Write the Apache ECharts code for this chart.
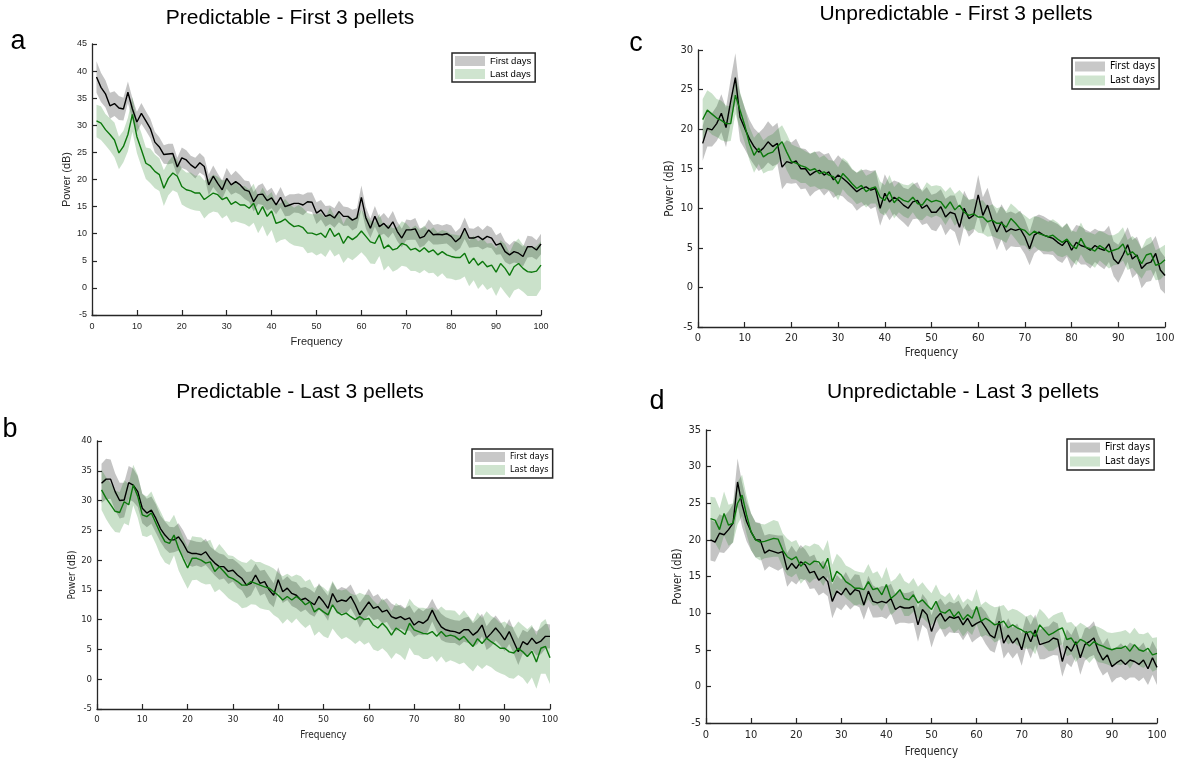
<!DOCTYPE html>
<html>
<head>
<meta charset="utf-8">
<title>Power spectra</title>
<script src="https://cdn.jsdelivr.net/npm/echarts/dist/echarts.min.js"></script>
<style>
  html, body { margin: 0; padding: 0; background: #fff; }
  #chart { width: 1180px; height: 761px; }
</style>
</head>
<body>
<div id="chart"></div>
<script>
// Frequency bins (Hz)
const FREQ = [];
for (let f = 1; f <= 100; f++) FREQ.push(f);

const TICKS_X = [0, 10, 20, 30, 40, 50, 60, 70, 80, 90, 100];

// Mean power (dB) and shaded half-widths, Predictable - First 3 pellets
const predFirstFirstDays = [38.9,37.0,35.8,33.6,34.0,33.2,33.0,36.1,33.0,30.6, 32.2,30.8,29.4,26.9,26.0,24.6,24.7,24.8,22.3,24.0, 23.6,22.7,22.1,23.1,22.4,19.0,20.6,19.3,18.1,20.2, 19.0,19.6,19.0,18.1,17.8,15.9,17.2,17.3,16.1,16.6, 15.3,16.7,15.0,15.3,15.6,15.6,15.3,15.9,15.8,13.8, 14.4,13.2,13.5,12.9,14.1,13.2,13.2,12.5,12.9,16.7, 12.9,11.0,13.2,11.3,11.9,11.0,12.2,10.4,9.2,10.7, 10.7,10.9,9.2,9.5,10.7,9.8,9.9,9.8,10.0,9.5, 8.5,9.2,11.0,9.2,9.2,9.5,8.9,9.5,9.2,7.9, 8.2,6.7,6.1,6.7,6.4,5.8,7.6,7.6,7.0,8.1];
const predFirstFirstSpread = [2.9,2.7,2.5,2.4,2.3,2.2,2.1,2.0,2.0,1.9, 1.9,1.8,1.8,1.9,1.8,1.7,1.9,1.8,1.7,1.9, 1.8,1.7,1.9,1.8,1.7,1.9,2.0,1.8,1.7,1.9, 1.8,2.0,1.8,1.7,1.9,1.8,1.7,2.0,1.8,1.9, 1.7,1.9,1.8,2.0,1.7,1.8,1.9,1.7,1.8,2.0, 1.8,1.9,1.7,1.8,2.0,1.8,1.7,1.9,1.8,2.2, 2.0,1.8,1.9,1.7,1.9,1.8,2.0,1.8,1.7,1.9, 1.8,2.0,1.8,1.7,1.9,1.8,1.9,1.7,1.8,2.0, 1.8,1.9,2.0,1.8,1.7,1.9,1.8,2.0,1.9,1.8, 2.0,1.9,1.8,2.0,1.9,1.8,2.0,1.9,1.8,1.9];
const predFirstLastDays = [30.8,30.4,29.2,28.3,27.3,24.9,26.1,28.3,32.0,27.9, 25.5,23.0,22.5,21.5,20.9,18.4,20.2,21.2,20.6,18.7, 18.1,17.9,17.5,17.5,16.3,16.9,17.5,17.2,16.3,16.7, 15.4,15.9,15.3,15.3,14.7,15.6,13.5,15.0,13.2,14.2, 11.9,12.2,12.7,11.9,11.3,11.5,11.1,10.1,10.1,9.8, 10.1,9.3,11.0,9.5,10.1,8.2,9.5,8.9,9.5,10.5, 9.5,8.5,8.2,9.8,7.3,7.9,7.0,7.3,8.2,7.9, 7.0,7.3,6.7,7.4,6.6,7.0,6.1,6.7,6.1,5.8, 5.6,5.6,6.4,4.5,5.5,4.2,4.9,3.9,4.2,2.9, 4.5,3.6,2.3,3.9,4.5,3.6,3.0,2.9,3.1,4.2];
const predFirstLastSpread = [3.0,3.1,2.9,3.0,3.2,3.0,2.9,3.1,3.2,3.0, 3.1,2.9,3.2,3.1,3.0,3.3,3.1,3.2,3.0,3.3, 3.2,3.4,3.2,3.3,3.5,3.2,3.4,3.3,3.5,3.3, 3.4,3.6,3.3,3.5,3.4,3.6,3.4,3.5,3.7,3.5, 3.6,3.4,3.7,3.6,3.5,3.8,3.6,3.7,3.5,3.8, 3.7,3.6,3.9,3.7,3.8,3.6,3.9,3.8,3.7,3.9, 3.8,4.0,3.8,3.9,4.1,3.8,4.0,3.9,4.1,4.0, 3.9,4.2,4.0,4.1,3.9,4.2,4.1,4.0,4.3,4.1, 4.2,4.0,4.3,4.2,4.1,4.4,4.2,4.3,4.1,4.4, 4.3,4.5,4.2,4.4,4.6,4.3,4.5,4.4,4.6,4.4];

// Predictable - Last 3 pellets
const predLastFirstDays = [32.9,33.6,33.6,31.5,30.0,30.1,33.0,32.6,31.5,28.7, 27.9,28.4,27.0,25.3,24.2,23.4,23.4,23.9,22.8,21.4, 21.1,21.1,20.9,21.4,20.3,19.5,18.9,18.9,18.1,18.3, 17.5,16.9,15.8,16.1,17.5,16.1,16.4,15.0,14.1,16.7, 14.7,15.3,14.4,14.1,13.3,13.6,13.0,12.5,13.9,13.0, 11.9,14.4,13.0,13.3,13.1,13.9,12.5,10.8,11.9,13.0, 11.9,12.2,11.3,11.6,10.5,10.2,10.5,10.0,10.3,9.1, 9.7,9.4,10.0,11.6,10.0,8.8,8.3,8.1,8.0,7.7, 8.3,8.3,7.4,8.0,9.1,6.9,7.7,8.6,7.7,6.6, 8.0,6.3,4.6,6.3,5.8,6.9,6.0,6.4,7.2,7.2];
const predLastFirstSpread = [3.3,3.4,3.3,3.1,3.0,2.9,2.8,2.8,2.6,2.5, 2.4,2.3,2.4,2.2,2.3,2.2,2.1,2.3,2.2,2.1, 2.2,2.0,2.1,2.2,2.0,2.1,2.2,2.0,2.1,1.9, 2.1,2.0,2.2,2.0,1.9,2.1,2.0,2.2,2.0,2.1, 1.9,2.0,2.1,2.2,2.0,1.9,2.1,2.0,2.2,2.0, 2.1,1.9,2.0,2.2,2.1,2.0,1.9,2.1,2.0,2.2, 2.0,2.1,1.9,2.0,2.2,2.1,2.0,1.9,2.1,2.0, 2.2,2.0,2.1,1.9,2.0,2.2,2.1,2.0,1.9,2.1, 2.0,2.2,2.0,2.1,1.9,2.0,2.2,2.1,2.0,1.9, 2.1,2.0,2.2,2.0,2.1,1.9,2.0,2.2,2.1,2.0];
const predLastLastDays = [31.8,30.4,29.3,28.2,28.0,29.8,29.3,32.6,30.7,27.6, 27.3,27.9,26.2,24.5,23.1,22.8,24.2,22.0,20.3,18.7, 20.3,20.3,20.0,19.5,19.7,18.1,18.9,18.1,17.2,16.9, 16.4,15.8,15.8,16.4,16.1,15.8,15.5,15.3,14.7,14.1, 13.3,13.9,13.3,13.9,13.3,12.5,13.0,11.3,11.9,11.3, 10.8,12.5,11.3,10.8,11.1,10.5,10.0,10.5,10.0,10.2, 9.1,8.6,9.4,8.6,7.4,8.6,8.1,7.5,9.4,8.3, 8.0,7.7,7.6,8.0,7.2,8.0,7.2,7.4,7.2,6.6, 7.2,6.3,5.5,6.8,6.0,6.9,6.3,5.8,5.2,5.2, 4.6,4.4,5.2,4.6,3.8,4.7,2.9,5.2,5.5,3.6];
const predLastLastSpread = [3.4,3.5,3.6,3.5,3.4,3.6,3.5,3.4,3.6,3.5, 3.4,3.6,3.5,3.7,3.5,3.6,3.4,3.7,3.6,3.5, 3.7,3.6,3.8,3.6,3.7,3.5,3.8,3.7,3.6,3.8, 3.7,3.9,3.7,3.8,3.6,3.9,3.8,3.7,3.9,3.8, 4.0,3.8,3.9,3.7,4.0,3.9,3.8,4.0,3.9,4.1, 3.9,4.0,3.8,4.1,4.0,3.9,4.1,4.0,4.2,4.0, 4.1,3.9,4.2,4.1,4.0,4.2,4.1,4.3,4.1,4.2, 4.0,4.3,4.2,4.1,4.3,4.2,4.4,4.2,4.3,4.1, 4.4,4.3,4.2,4.4,4.3,4.5,4.3,4.4,4.2,4.5, 4.4,4.3,4.5,4.4,4.6,4.4,4.5,4.3,4.6,4.4];

// Unpredictable - First 3 pellets
const unpFirstFirstDays = [18.2,20.1,19.9,20.7,22.0,20.2,23.5,26.5,21.5,20.1, 18.8,17.8,17.1,17.6,18.4,17.8,18.2,15.2,15.9,15.7, 16.0,15.0,15.0,14.2,14.6,14.8,14.2,14.6,13.6,14.2, 13.8,13.3,12.7,12.1,12.5,12.7,12.3,12.5,10.0,11.9, 10.8,11.4,11.0,10.4,10.0,10.8,11.0,10.0,10.4,9.5, 9.5,10.2,8.9,9.5,9.3,7.6,10.0,8.7,9.1,11.7, 9.1,10.4,8.5,7.0,8.3,7.0,7.4,7.2,7.4,6.4, 4.9,6.6,7.0,6.6,6.4,6.2,5.7,5.3,6.0,4.7, 5.7,5.3,5.1,4.7,5.3,4.9,4.7,5.5,3.6,3.0, 4.1,5.4,3.6,4.1,2.4,3.0,3.2,4.3,2.2,1.5];
const unpFirstFirstSpread = [2.2,2.3,2.1,2.2,2.4,2.5,2.8,3.1,3.0,2.6, 2.4,2.3,2.4,2.5,2.6,2.5,2.6,2.8,2.7,2.6, 2.8,2.6,2.5,2.7,2.5,2.4,2.6,2.4,2.3,2.5, 2.3,2.4,2.2,2.4,2.3,2.2,2.4,2.3,2.2,2.4, 2.3,2.1,2.3,2.2,2.4,2.2,2.3,2.1,2.3,2.2, 2.4,2.2,2.3,2.1,2.3,2.4,2.2,2.3,2.1,2.5, 2.3,2.2,2.1,2.3,2.2,2.4,2.2,2.1,2.3,2.2, 2.1,2.3,2.2,2.4,2.2,2.1,2.3,2.2,2.1,2.3, 2.2,2.4,2.2,2.3,2.1,2.2,2.4,2.3,2.2,2.4, 2.3,2.2,2.4,2.3,2.5,2.3,2.4,2.2,2.4,2.3];
const unpFirstLastDays = [21.2,22.4,21.9,21.4,21.1,20.7,20.7,24.3,22.4,20.5, 18.2,16.7,17.6,16.5,16.9,17.1,17.8,18.4,17.1,15.9, 15.7,15.4,15.2,14.8,15.0,14.4,14.6,14.2,14.0,13.1, 14.4,13.8,13.1,12.5,12.9,12.1,12.5,12.7,11.4,11.0, 12.1,10.7,11.4,11.0,10.8,11.4,10.6,10.4,11.2,10.8, 11.0,10.8,10.0,10.8,9.8,10.4,9.5,9.1,9.3,8.9, 8.9,8.3,8.5,8.1,8.1,7.6,8.7,8.1,7.4,7.2, 6.6,7.1,6.8,6.6,6.4,6.6,6.1,5.7,6.1,5.3, 4.9,6.2,5.1,4.9,4.6,5.3,4.9,4.5,4.7,4.9, 5.5,4.1,4.5,3.9,3.0,4.1,4.3,2.8,3.0,3.5];
const unpFirstLastSpread = [2.6,2.5,2.6,2.4,2.5,2.3,2.2,2.4,2.3,2.2, 2.1,2.2,2.0,2.1,2.2,2.3,2.2,2.1,2.3,2.2, 2.1,2.2,2.0,2.1,2.2,2.0,2.1,1.9,2.0,2.1, 2.0,2.1,1.9,2.0,2.1,2.0,1.9,2.1,2.0,1.9, 2.1,2.0,1.9,2.0,2.1,1.9,2.0,1.9,2.1,2.0, 1.9,2.0,2.1,1.9,2.0,1.9,2.1,2.0,1.9,2.0, 2.1,1.9,2.0,1.9,2.1,2.0,1.9,2.0,2.1,1.9, 2.0,1.9,2.1,2.0,1.9,2.0,2.1,1.9,2.0,1.9, 2.1,2.0,1.9,2.0,2.1,1.9,2.0,2.1,1.9,2.0, 2.1,1.9,2.0,2.1,1.9,2.0,2.1,1.9,2.0,1.9];

// Unpredictable - Last 3 pellets
const unpLastFirstDays = [20.0,19.7,20.9,20.7,21.4,22.3,27.9,24.8,22.5,21.1, 20.0,20.0,18.2,18.6,18.4,18.2,18.4,15.9,16.8,16.1, 17.0,16.6,15.5,15.7,14.5,15.0,14.3,11.6,13.0,12.5, 13.4,12.5,13.2,13.0,11.1,13.0,11.6,11.4,11.6,11.4, 12.0,10.5,10.9,10.7,10.7,10.9,8.4,10.5,9.8,7.5, 9.3,10.0,8.9,9.5,9.3,9.5,8.4,9.3,8.2,8.6, 8.9,8.0,7.0,6.6,8.9,5.9,7.0,5.9,6.6,5.0, 7.5,6.1,7.7,5.7,5.9,6.1,6.6,6.4,3.4,5.5, 4.8,6.1,3.9,5.7,6.1,6.6,4.8,3.6,4.3,2.7, 3.2,3.6,3.0,3.6,3.4,3.0,3.6,2.4,3.9,2.6];
const unpLastFirstSpread = [2.8,2.7,2.6,2.5,2.5,2.6,3.2,3.0,2.7,2.5, 2.4,2.3,2.4,2.2,2.3,2.4,2.2,2.3,2.4,2.2, 2.3,2.1,2.2,2.3,2.1,2.2,2.0,2.3,2.2,2.1, 2.2,2.0,2.1,2.2,2.0,2.1,2.2,2.0,2.1,2.2, 2.0,2.1,2.2,2.0,2.1,2.2,2.3,2.1,2.0,2.2, 2.1,2.0,2.2,2.1,2.0,2.2,2.1,2.0,2.2,2.1, 2.0,2.2,2.1,2.0,2.2,2.1,2.3,2.1,2.0,2.2, 2.1,2.3,2.1,2.0,2.2,2.1,2.3,2.2,2.1,2.3, 2.2,2.1,2.3,2.2,2.1,2.3,2.2,2.1,2.3,2.2, 2.1,2.3,2.2,2.4,2.2,2.3,2.4,2.2,2.3,2.4];
const unpLastLastDays = [22.9,22.7,21.4,23.6,22.0,22.3,25.0,26.1,23.4,21.1, 20.0,19.7,19.8,20.0,20.2,20.1,18.6,17.7,17.3,17.7, 16.4,17.0,16.6,17.1,17.0,16.1,17.5,14.3,15.7,15.2, 14.3,13.9,13.4,13.4,13.2,14.3,13.2,13.4,12.5,13.9, 12.0,12.5,13.2,12.0,11.8,12.5,11.4,11.8,11.1,10.5, 11.6,10.2,10.0,10.5,9.5,10.2,9.1,9.8,9.3,10.9, 8.9,9.3,8.9,8.4,8.6,8.9,8.0,8.4,8.0,7.7, 7.3,7.5,6.8,8.4,7.7,7.0,7.3,7.7,8.0,6.4, 6.6,5.7,6.4,6.1,5.5,6.1,5.7,5.5,5.2,5.0, 5.2,5.2,5.5,4.8,5.7,5.0,4.8,5.2,4.3,4.5];
const unpLastLastSpread = [3.0,3.1,2.9,3.0,2.8,2.7,2.9,2.8,2.6,2.5, 2.4,2.5,2.3,2.4,2.5,2.4,2.3,2.5,2.4,2.3, 2.4,2.3,2.5,2.4,2.3,2.4,2.5,2.3,2.4,2.3, 2.2,2.3,2.4,2.2,2.3,2.4,2.2,2.3,2.2,2.4, 2.3,2.2,2.3,2.4,2.2,2.3,2.2,2.4,2.3,2.2, 2.3,2.4,2.2,2.3,2.2,2.4,2.3,2.2,2.3,2.4, 2.2,2.3,2.2,2.4,2.3,2.2,2.3,2.2,2.4,2.3, 2.2,2.3,2.4,2.2,2.3,2.2,2.4,2.3,2.2,2.3, 2.2,2.4,2.3,2.2,2.3,2.2,2.4,2.3,2.2,2.3, 2.2,2.3,2.2,2.4,2.3,2.2,2.3,2.2,2.3,2.2];

const GROUP_NAMES = ['First days', 'Last days'];

// Colours
const AXIS_COLOR = '#262626';
const FIRST_LINE = '#000000';
const LAST_LINE = '#0c780c';
const FIRST_BAND = 'rgba(50,50,50,0.29)';
const LAST_BAND = 'rgba(25,125,25,0.23)';
const FIRST_SWATCH = '#c8c8c8';
const LAST_SWATCH = '#cfe4cf';

const ARIAL = '"Liberation Sans", Arial, Helvetica, sans-serif';
const COND = '"DejaVu Sans Condensed", "DejaVu Sans", Verdana, sans-serif';

// Panel layout
const PANELS = [
  {
    title: 'Predictable - First 3 pellets', letter: 'a',
    first: predFirstFirstDays, firstSpread: predFirstFirstSpread,
    last: predFirstLastDays, lastSpread: predFirstLastSpread,
    yMax: 45,
    grid: { left: 92, top: 44, width: 449, height: 271 },
    titlePos: [290, 18], letterPos: [18, 42],
    font: ARIAL, tickSize: 9, nameSize: 11, legendSize: 9.5,
    xNameGap: 21, yNameGap: 20, labelMarginX: 7,
    legendPos: { left: 452, top: 53 }
  },
  {
    title: 'Predictable - Last 3 pellets', letter: 'b',
    first: predLastFirstDays, firstSpread: predLastFirstSpread,
    last: predLastLastDays, lastSpread: predLastLastSpread,
    yMax: 40,
    grid: { left: 97, top: 441, width: 453, height: 268 },
    titlePos: [300, 392], letterPos: [10, 430],
    font: COND, tickSize: 9.5, nameSize: 10, legendSize: 9,
    xNameGap: 21, yNameGap: 17, labelMarginX: 6,
    legendPos: { left: 472, top: 449 }
  },
  {
    title: 'Unpredictable - First 3 pellets', letter: 'c',
    first: unpFirstFirstDays, firstSpread: unpFirstFirstSpread,
    last: unpFirstLastDays, lastSpread: unpFirstLastSpread,
    yMax: 30,
    grid: { left: 698, top: 50, width: 467, height: 277 },
    titlePos: [956, 14], letterPos: [636, 44],
    font: COND, tickSize: 11, nameSize: 11.5, legendSize: 10.5,
    xNameGap: 20, yNameGap: 21, labelMarginX: 6,
    legendPos: { left: 1072, top: 58 }
  },
  {
    title: 'Unpredictable - Last 3 pellets', letter: 'd',
    first: unpLastFirstDays, firstSpread: unpLastFirstSpread,
    last: unpLastLastDays, lastSpread: unpLastLastSpread,
    yMax: 35,
    grid: { left: 706, top: 430, width: 451, height: 293 },
    titlePos: [963, 392], letterPos: [657, 402],
    font: COND, tickSize: 11, nameSize: 11.5, legendSize: 10.5,
    xNameGap: 23, yNameGap: 20, labelMarginX: 7,
    legendPos: { left: 1067, top: 439 }
  }
];

// Shaded band (mean +/- half-width) drawn as one polygon through the axis scales
function bandSeries(name, gi, mean, spread, color) {
  const rows = FREQ.map((f, i) => [f, +(mean[i] - spread[i]).toFixed(2), +(mean[i] + spread[i]).toFixed(2)]);
  return {
    type: 'custom',
    name: name,
    xAxisIndex: gi,
    yAxisIndex: gi,
    silent: true,
    z: 1,
    itemStyle: { color: color },
    encode: { x: 0, y: [1, 2] },
    data: rows,
    renderItem: function (params, api) {
      if (params.dataIndex !== 0) return null;
      const upper = [];
      const lower = [];
      for (let i = 0; i < rows.length; i++) {
        upper.push(api.coord([rows[i][0], rows[i][2]]));
        lower.push(api.coord([rows[i][0], rows[i][1]]));
      }
      return {
        type: 'polygon',
        shape: { points: upper.concat(lower.reverse()) },
        style: { fill: color, stroke: null }
      };
    }
  };
}

function meanSeries(name, gi, mean, color) {
  return {
    type: 'line',
    name: name,
    xAxisIndex: gi,
    yAxisIndex: gi,
    data: FREQ.map((f, i) => [f, mean[i]]),
    showSymbol: false,
    symbol: 'none',
    silent: true,
    z: 3,
    lineStyle: { color: color, width: 1.4 },
    animation: false
  };
}

const grids = [], xAxes = [], yAxes = [], series = [], legends = [], texts = [];

PANELS.forEach((p, gi) => {
  grids.push(Object.assign({ containLabel: false }, p.grid));

  xAxes.push({
    gridIndex: gi, type: 'value', min: TICKS_X[0], max: TICKS_X[TICKS_X.length - 1], interval: 10,
    name: 'Frequency', nameLocation: 'middle', nameGap: p.xNameGap,
    nameTextStyle: { fontFamily: p.font, fontSize: p.nameSize, color: AXIS_COLOR },
    axisLine: { show: true, onZero: false, lineStyle: { color: AXIS_COLOR, width: 1.3 } },
    axisTick: { show: true, inside: true, length: 5, lineStyle: { color: AXIS_COLOR, width: 1.2 } },
    axisLabel: { fontFamily: p.font, fontSize: p.tickSize, color: AXIS_COLOR, margin: p.labelMarginX },
    splitLine: { show: false }
  });

  yAxes.push({
    gridIndex: gi, type: 'value', min: -5, max: p.yMax, interval: 5,
    name: 'Power (dB)', nameLocation: 'middle', nameGap: p.yNameGap,
    nameTextStyle: { fontFamily: p.font, fontSize: p.nameSize, color: AXIS_COLOR },
    axisLine: { show: true, onZero: false, lineStyle: { color: AXIS_COLOR, width: 1.3 } },
    axisTick: { show: true, inside: true, length: 5, lineStyle: { color: AXIS_COLOR, width: 1.2 } },
    axisLabel: { fontFamily: p.font, fontSize: p.tickSize, color: AXIS_COLOR, margin: 5 },
    splitLine: { show: false }
  });

  series.push(bandSeries(GROUP_NAMES[0], gi, p.first, p.firstSpread, FIRST_BAND));
  series.push(bandSeries(GROUP_NAMES[1], gi, p.last, p.lastSpread, LAST_BAND));
  series.push(meanSeries(GROUP_NAMES[0] + ' mean', gi, p.first, FIRST_LINE));
  series.push(meanSeries(GROUP_NAMES[1] + ' mean', gi, p.last, LAST_LINE));

  legends.push({
    left: p.legendPos.left, top: p.legendPos.top,
    orient: 'vertical', selectedMode: false,
    icon: 'rect', itemWidth: 30, itemHeight: 10, itemGap: 3,
    padding: [3, 4, 3, 3],
    borderColor: AXIS_COLOR, borderWidth: 1.5, backgroundColor: '#ffffff',
    textStyle: { fontFamily: p.font, fontSize: p.legendSize, color: '#000' },
    data: [
      { name: GROUP_NAMES[0], itemStyle: { color: FIRST_SWATCH, borderWidth: 0 } },
      { name: GROUP_NAMES[1], itemStyle: { color: LAST_SWATCH, borderWidth: 0 } }
    ]
  });

  texts.push({
    type: 'text', x: p.titlePos[0], y: p.titlePos[1], silent: true,
    style: { text: p.title, fill: '#000', font: '21px ' + ARIAL, textAlign: 'center', textVerticalAlign: 'middle' }
  });
  texts.push({
    type: 'text', x: p.letterPos[0], y: p.letterPos[1], silent: true,
    style: { text: p.letter, fill: '#000', font: '27px ' + ARIAL, textAlign: 'center', textVerticalAlign: 'middle' }
  });
});

const chart = echarts.init(document.getElementById('chart'), null, { renderer: 'canvas' });
chart.setOption({
  backgroundColor: '#ffffff',
  animation: false,
  grid: grids,
  xAxis: xAxes,
  yAxis: yAxes,
  legend: legends,
  graphic: texts,
  series: series
});
</script>
</body>
</html>
